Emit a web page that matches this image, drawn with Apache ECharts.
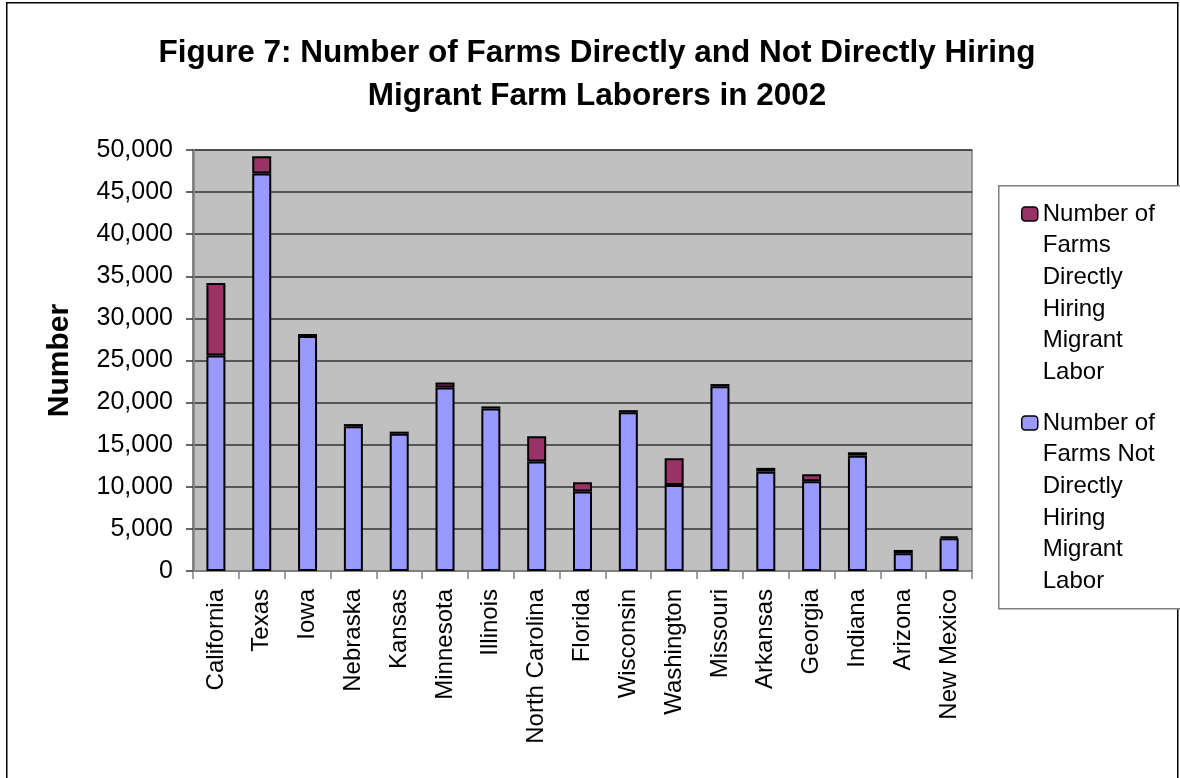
<!DOCTYPE html>
<html>
<head>
<meta charset="utf-8">
<script src="https://cdn.jsdelivr.net/npm/echarts@6/dist/echarts.min.js"></script>
<style>
html,body{margin:0;padding:0;background:#fff;}
#chart{width:1180px;height:778px;}
</style>
</head>
<body>
<div id="chart"></div>
<script>
const titleText = 'Figure 7: Number of Farms Directly and Not Directly Hiring\nMigrant Farm Laborers in 2002';
const yAxisName = 'Number';
const states = ['California','Texas','Iowa','Nebraska','Kansas','Minnesota','Illinois','North Carolina','Florida','Wisconsin','Washington','Missouri','Arkansas','Georgia','Indiana','Arizona','New Mexico'];
const notDirect = [25600,47200,27900,17200,16300,21800,19300,13000,9450,18850,10200,21950,11800,10650,13700,2100,3900];
const direct = [8600,2050,250,250,250,600,250,3000,1100,250,3200,250,450,850,400,400,200];
const seriesDirectName = 'Number of Farms Directly Hiring Migrant Labor';
const seriesNotDirectName = 'Number of Farms Not Directly Hiring Migrant Labor';
const legendDirectLines = ['Number of','Farms','Directly','Hiring','Migrant','Labor'];
const legendNotDirectLines = ['Number of','Farms Not','Directly','Hiring','Migrant','Labor'];

const FONT = "'Liberation Sans', Arial, sans-serif";
const chart = echarts.init(document.getElementById('chart'), null, {renderer:'canvas'});

const LH = 31.7;
function legendFmt(lines){ return () => '\n\n\n\n\n' + lines.join('\n'); }

const option = {
  backgroundColor: '#ffffff',
  animation: false,
  title: {
    text: titleText,
    left: 597,
    textAlign: 'center',
    top: 32,
    padding: 0,
    textStyle: { fontFamily: FONT, fontSize: 31.5, fontWeight: 'bold', color: '#000', lineHeight: 43 }
  },
  graphic: [
    { type: 'rect', left: 6, top: 2, z: -10, silent: true,
      shape: { width: 1171, height: 800 },
      style: { fill: '#fff', stroke: '#000', lineWidth: 1.5 } },
    { type: 'rect', left: 998, top: 185, z: -5, silent: true,
      shape: { width: 200, height: 423 },
      style: { fill: '#fff', stroke: '#808080', lineWidth: 1.5 } }
  ],
  legend: [
    {
      data: [seriesDirectName], orient: 'vertical', left: 1021, top: 214 - 5.5*LH, padding: 0,
      itemWidth: 16, itemHeight: 14, itemGap: 0, selectedMode: false,
      formatter: legendFmt(legendDirectLines),
      itemStyle: { borderColor: '#000', borderWidth: 1.5 },
      textStyle: { fontFamily: FONT, fontSize: 24, color: '#000', lineHeight: LH }
    },
    {
      data: [seriesNotDirectName], orient: 'vertical', left: 1021, top: 423 - 5.5*LH, padding: 0,
      itemWidth: 16, itemHeight: 14, itemGap: 0, selectedMode: false,
      formatter: legendFmt(legendNotDirectLines),
      itemStyle: { borderColor: '#000', borderWidth: 1.5 },
      textStyle: { fontFamily: FONT, fontSize: 24, color: '#000', lineHeight: LH }
    }
  ],
  grid: {
    left: 193, right: 208, top: 150, bottom: 207,
    show: true, backgroundColor: '#C0C0C0', borderColor: '#808080', borderWidth: 1.5
  },
  xAxis: {
    type: 'category',
    data: states,
    boundaryGap: true,
    axisLine: { show: true, lineStyle: { color: '#808080', width: 2 } },
    axisTick: { show: true, length: 8, lineStyle: { color: '#808080', width: 1.5 } },
    axisLabel: { rotate: 90, margin: 18, fontFamily: FONT, fontSize: 24, color: '#000', interval: 0 }
  },
  yAxis: {
    type: 'value',
    min: 0, max: 50000, interval: 5000,
    name: yAxisName,
    nameLocation: 'middle',
    nameRotate: 90,
    nameGap: 118,
    nameTextStyle: { fontFamily: FONT, fontSize: 30, fontWeight: 'bold', color: '#000' },
    axisLine: { show: true, lineStyle: { color: '#808080', width: 2.5 } },
    axisTick: { show: true, length: 7, lineStyle: { color: '#333', width: 1.5 } },
    axisLabel: {
      margin: 20, fontFamily: FONT, fontSize: 25, color: '#000',
      formatter: v => v.toLocaleString('en-US')
    },
    splitLine: { show: true, lineStyle: { color: '#333', width: 1.5 } }
  },
  series: [
    {
      name: seriesNotDirectName, type: 'bar', stack: 'farms', data: notDirect, barWidth: 19,
      itemStyle: { color: '#9999FF', borderColor: '#000', borderWidth: 2 }
    },
    {
      name: seriesDirectName, type: 'bar', stack: 'farms', data: direct, barWidth: 19,
      itemStyle: { color: '#993366', borderColor: '#000', borderWidth: 2 }
    }
  ]
};
chart.setOption(option);
</script>
</body>
</html>
